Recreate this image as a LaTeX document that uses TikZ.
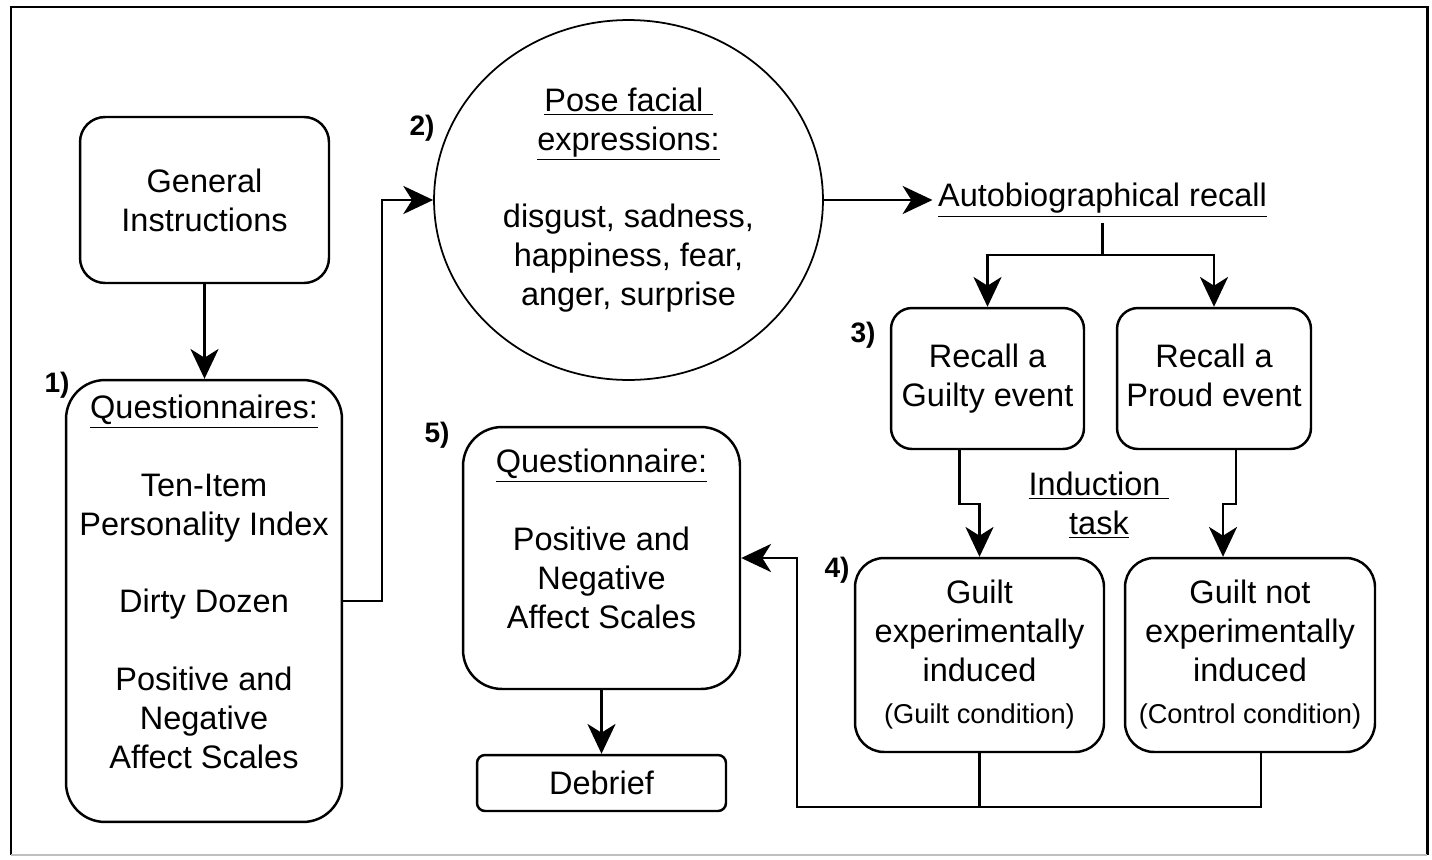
\documentclass[tikz,border=0pt]{standalone}
\usepackage{fontspec}
\setmainfont{Liberation Sans}
\usetikzlibrary{shapes.geometric,arrows.meta}
\newcommand{\condfont}{\fontsize{15.5}{18}\selectfont}

\begin{document}
\begin{tikzpicture}[x=0.02cm, y=0.02cm]
		\tikzstyle{every node}+=[inner sep=0pt, align=center, font=\fontsize{18.5}{22.1}\selectfont]
		\tikzstyle{stepbox}=[draw, line width=1.4pt, rounded corners=0.5cm, minimum width=4.98cm, minimum height=3.32cm]
		\tikzstyle{arr}=[line width=1.4pt, -{Stealth[length=17pt,width=16pt,inset=5pt]}]
		\tikzstyle{link}=[line width=1.4pt]
		\tikzstyle{num}=[font=\fontsize{16}{19}\selectfont\bfseries]
		\useasboundingbox (0,0) rectangle (1432,-859);
		\draw [black, line width=1.7pt] (11,-855) -- (11,-7) -- (1427,-7) -- (1427,-855);
		\draw [black!25, line width=1pt] (11,-855) -- (1427,-855);
		\node [stepbox] (gen) at (204.5,-200) {General\\Instructions};
		\node [stepbox, minimum width=5.52cm, minimum height=8.84cm, rounded corners=0.78cm] (quest) at (204,-601) {\underline{Questionnaires:}\\[22.1pt]Ten-Item\\Personality Index\\[22.1pt]Dirty Dozen\\[22.1pt]Positive and\\Negative\\Affect Scales\\\mbox{}};
		\node [draw, ellipse, line width=1pt, minimum width=7.78cm, minimum height=7.2cm] (pose) at (628.5,-200) {\underline{Pose facial\ }\\\underline{expressions:}\\[22.1pt]disgust, sadness,\\happiness, fear,\\anger, surprise};
		\node [inner sep=3pt] (auto) at (1102.5,-200) {\underline{Autobiographical recall}};
		\node [stepbox, minimum width=3.86cm, minimum height=2.82cm, rounded corners=0.42cm] (rg) at (987.5,-378.5) {Recall a\\Guilty event};
		\node [stepbox, minimum width=3.88cm, minimum height=2.82cm, rounded corners=0.42cm] (rp) at (1214,-378.5) {Recall a\\Proud event\vphantom{y}};
		\node (induct) at (1099,-505) {\underline{Induction\ }\\\underline{task}};
		\node [stepbox, minimum width=4.98cm, minimum height=3.88cm, rounded corners=0.58cm] (gg) at (979.5,-655) {Guilt\\experimentally\\induced\\[2pt]{\condfont (Guilt condition)}};
		\node [stepbox, minimum width=5cm, minimum height=3.88cm, rounded corners=0.58cm] (gn) at (1250,-655) {Guilt not\\experimentally\\induced\\[2pt]{\condfont (Control condition)}};
		\node [stepbox, minimum width=5.54cm, minimum height=5.24cm, rounded corners=0.78cm] (qpanas) at (601.5,-558) {\underline{Questionnaire:}\\[22.1pt]Positive and\\Negative\\Affect Scales\\\mbox{}};
		\node [stepbox, minimum width=4.98cm, minimum height=1.12cm, rounded corners=0.16cm] (debrief) at (601.5,-783) {Debrief};
		\node [num] (n1) at (57,-385) {1)};
		\node [num] (n2) at (422,-128) {2)};
		\node [num] (n3) at (863,-335) {3)};
		\node [num] (n4) at (837,-570) {4)};
		\node [num] (n5) at (437,-435) {5)};
		\coordinate (splity) at (0,-255);
		\coordinate (back) at (797,-807);
		\draw [arr] (gen.south) -- (gen.south |- quest.north);
		\draw [arr] (quest.east) -- ++(39,0) |- (pose.west);
		\draw [arr] (pose.east) -- (auto.west);
		\draw [link] (auto.south) -- (auto.south |- splity) coordinate (split);
		\draw [arr] (split) -| (rg.north);
		\draw [arr] (split) -| (rp.north);
		\draw [arr] ([xshift=-0.56cm]rg.south) -- ++(0,-54) -| (gg.north);
		\draw [arr] ([xshift=0.44cm]rp.south) -- ++(0,-54) -| ([xshift=-0.54cm]gn.north);
		\draw [link] (gg.south) |- (back);
		\draw [arr] ([xshift=0.22cm]gn.south) |- (back) |- (qpanas.east);
		\draw [arr] (qpanas.south) -- (debrief.north);
\end{tikzpicture}
\end{document}
